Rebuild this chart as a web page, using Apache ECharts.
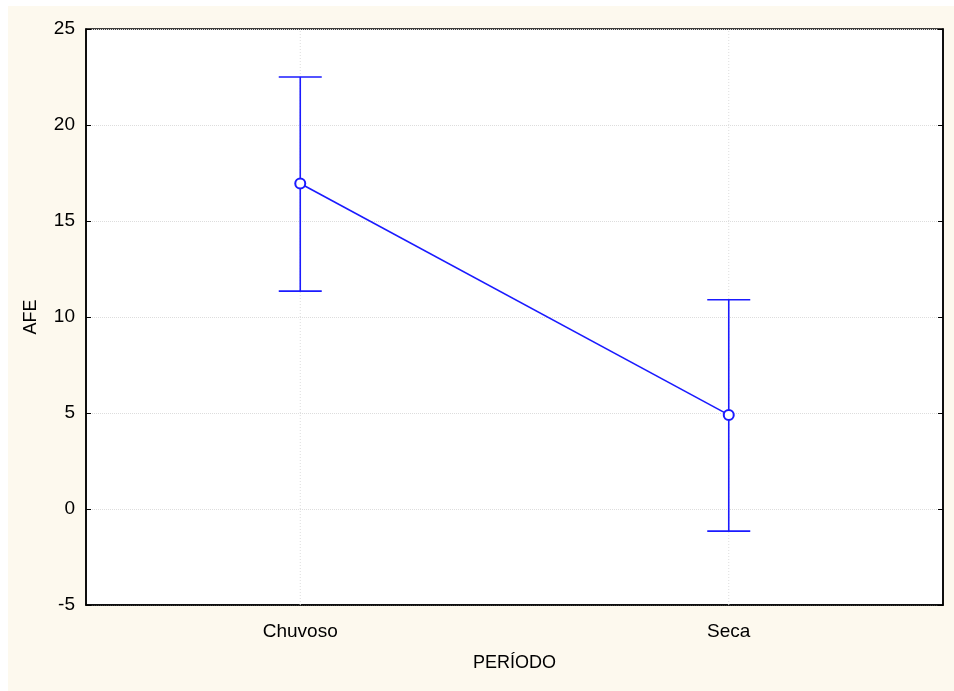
<!DOCTYPE html>
<html>
<head>
<meta charset="utf-8">
<script src="https://cdn.jsdelivr.net/npm/echarts@6/dist/echarts.min.js"></script>
<style>
  html, body { margin: 0; padding: 0; background: #fff; }
  #main { width: 954px; height: 691px; }
</style>
</head>
<body>
<div id="main"></div>
<script>
// categorias e valores (médias e intervalos)
var periodos = ["Chuvoso", "Seca"];
var medias = [16.95, 4.9];
var limInf = [11.35, -1.15];
var limSup = [22.5, 10.9];
var yTicks = [-5, 0, 5, 10, 15, 20, 25];

var azul = "#1a1aff";
var fonte = "Liberation Sans, Arial, sans-serif";

var barras = periodos.map(function (p, i) {
  return [i, limInf[i], limSup[i]];
});

var myChart = echarts.init(document.getElementById("main"));

var option = {
  animation: false,
  graphic: [
    {
      type: "rect",
      z: -10,
      silent: true,
      shape: { x: 8, y: 6, width: 946, height: 685 },
      style: { fill: "#fdf9ee" },
    },
  ],
  grid: {
    left: 86,
    right: 11,
    top: 29,
    bottom: 86,
    show: true,
    backgroundColor: "#fff",
    borderColor: "#000",
    borderWidth: 1.5,
  },
  xAxis: {
    type: "category",
    data: periodos,
    name: "PERÍODO",
    nameLocation: "middle",
    nameGap: 49,
    nameTextStyle: { fontSize: 18, color: "#000", fontFamily: fonte },
    axisLine: { onZero: false, lineStyle: { color: "#000", width: 1.5 } },
    axisTick: { inside: true, alignWithLabel: true, length: 5, lineStyle: { color: "#000" } },
    axisLabel: { fontSize: 19, color: "#000", fontFamily: fonte, margin: 17 },
    splitLine: { show: false },
  },
  yAxis: [
    {
      type: "value",
      min: yTicks[0],
      max: yTicks[yTicks.length - 1],
      interval: 5,
      name: "AFE",
      nameLocation: "middle",
      nameGap: 46,
      nameTextStyle: { fontSize: 18, color: "#000", fontFamily: fonte },
      axisLine: { show: true, lineStyle: { color: "#000", width: 1.5 } },
      axisTick: { show: true, inside: true, length: 5, lineStyle: { color: "#000" } },
      axisLabel: { fontSize: 19, color: "#000", fontFamily: fonte, margin: 11, padding: [6, 0, 0, 0] },
      splitLine: { show: true, lineStyle: { type: "dotted", color: "#ddd" } },
    },
    {
      type: "value",
      position: "right",
      min: yTicks[0],
      max: yTicks[yTicks.length - 1],
      interval: 5,
      axisLine: { show: true, lineStyle: { color: "#000", width: 1.5 } },
      axisTick: { show: true, inside: true, length: 5, lineStyle: { color: "#000" } },
      axisLabel: { show: false },
      splitLine: { show: false },
    },
  ],
  series: [
    {
      // linhas verticais pontilhadas nas categorias
      type: "custom",
      z: 1,
      silent: true,
      data: periodos.map(function (p, i) { return [i]; }),
      renderItem: function (params, api) {
        var x = api.value(0);
        var a = api.coord([x, yTicks[0]]);
        var b = api.coord([x, yTicks[yTicks.length - 1]]);
        return {
          type: "line",
          shape: { x1: a[0], y1: a[1], x2: b[0], y2: b[1] },
          style: { stroke: "#ddd", lineWidth: 1, lineDash: [1, 2] },
        };
      },
    },
    {
      type: "custom",
      z: 2,
      data: barras,
      renderItem: function (params, api) {
        var x = api.value(0);
        var baixo = api.coord([x, api.value(1)]);
        var alto = api.coord([x, api.value(2)]);
        var w = 21.5;
        var estilo = { stroke: azul, lineWidth: 1.6 };
        return {
          type: "group",
          children: [
            { type: "line", shape: { x1: alto[0], y1: alto[1], x2: baixo[0], y2: baixo[1] }, style: estilo },
            { type: "line", shape: { x1: alto[0] - w, y1: alto[1], x2: alto[0] + w, y2: alto[1] }, style: estilo },
            { type: "line", shape: { x1: baixo[0] - w, y1: baixo[1], x2: baixo[0] + w, y2: baixo[1] }, style: estilo },
          ],
        };
      },
    },
    {
      type: "line",
      z: 3,
      data: medias,
      symbol: "emptyCircle",
      symbolSize: 10,
      lineStyle: { color: azul, width: 1.6 },
      itemStyle: { color: azul, borderWidth: 1.6 },
    },
  ],
};

myChart.setOption(option);
</script>
</body>
</html>
